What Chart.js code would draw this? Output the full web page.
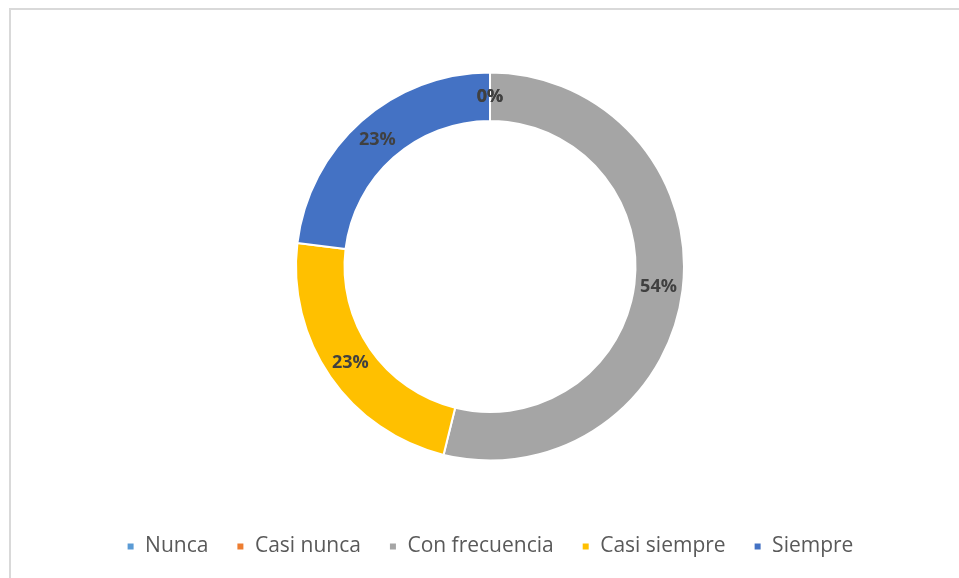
<!DOCTYPE html>
<html>
<head>
<meta charset="utf-8">
<script src="https://cdn.jsdelivr.net/npm/chart.js@4/dist/chart.umd.min.js"></script>
<style>
  html, body { margin: 0; padding: 0; background: #fff; }
  #wrap { position: relative; width: 959px; height: 578px; overflow: hidden; }
  #frame { position: absolute; left: 9px; top: 8px; width: 980px; height: 600px;
           border-top: 2px solid #d9d9d9; border-left: 2px solid #d9d9d9; }
  canvas { position: absolute; left: 0; top: 0; }
</style>
</head>
<body>
<div id="wrap">
  <div id="frame"></div>
  <canvas id="chart" width="959" height="578"></canvas>
</div>
<script>
// categories and values
const labels = ['Nunca', 'Casi nunca', 'Con frecuencia', 'Casi siempre', 'Siempre'];
const counts = [0, 0, 7, 3, 3];
const colors = ['#5B9BD5', '#ED7D31', '#A5A5A5', '#FFC000', '#4472C4'];

// percentage labels drawn in the middle of each ring segment
const pctLabels = {
    id: 'pctLabels',
    afterDatasetsDraw(chart) {
        const ctx = chart.ctx;
        const meta = chart.getDatasetMeta(0);
        const total = counts.reduce((a, b) => a + b, 0);
        ctx.save();
        ctx.font = 'bold 18px "Open Sans"';
        ctx.fillStyle = '#404040';
        ctx.textAlign = 'center';
        ctx.textBaseline = 'middle';
        meta.data.forEach((arc, i) => {
            const pos = arc.tooltipPosition();
            const pct = Math.round(counts[i] / total * 100);
            ctx.fillText(pct + '%', pos.x, pos.y);
        });
        ctx.restore();
    }
};

new Chart(document.getElementById('chart').getContext('2d'), {
    type: 'doughnut',
    data: {
        labels: labels,
        datasets: [{
            data: counts,
            backgroundColor: colors,
            borderColor: '#ffffff',
            borderWidth: 2
        }]
    },
    options: {
        responsive: false,
        animation: false,
        radius: 194,
        cutout: '75%',
        layout: { padding: { top: 25, bottom: 11, left: 21, right: 0 } },
        plugins: {
            legend: {
                position: 'bottom',
                labels: {
                    boxWidth: 8,
                    boxHeight: 8,
                    padding: 28,
                    color: '#595959',
                    font: { family: '"Open Sans"', size: 21 }
                }
            },
            tooltip: { enabled: false }
        }
    },
    plugins: [pctLabels]
});
</script>
</body>
</html>
